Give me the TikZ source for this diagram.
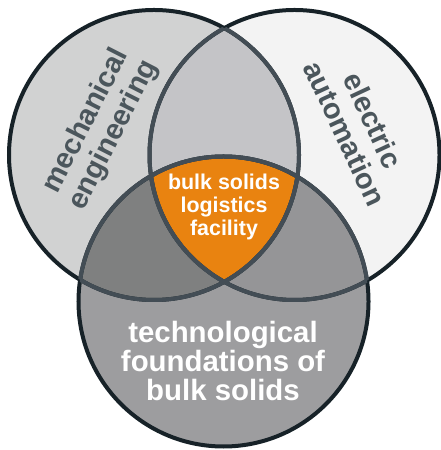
\documentclass[tikz,border=0pt]{standalone}
\usepackage{fontspec}
\setmainfont{Liberation Sans}

\definecolor{rimdark}{HTML}{172228}
\definecolor{rimslate}{HTML}{434D55}
\definecolor{labelgray}{HTML}{4B565C}
\definecolor{mechfill}{HTML}{D1D2D2}
\definecolor{elecfill}{HTML}{F3F3F3}
\definecolor{techfill}{HTML}{9D9D9F}
\definecolor{mefill}{HTML}{C4C4C7}
\definecolor{mtfill}{HTML}{7F8080}
\definecolor{etfill}{HTML}{959597}
\definecolor{corefill}{HTML}{E98310}

\def\circrad{145bp}

\begin{document}
\begin{tikzpicture}[x=1bp,y=1bp]
        \tikzstyle{ring}=[line width=4bp, draw=rimdark]
        \tikzstyle{seam}=[line width=4bp, draw=rimslate]
        \tikzstyle{field}=[text=labelgray, align=center, font=\fontsize{29}{31}\selectfont\bfseries]
        \tikzstyle{corelabel}=[text=white, align=center, font=\fontsize{21.5}{23.5}\selectfont\bfseries]
        \tikzstyle{baselabel}=[text=white, align=center, font=\fontsize{29.5}{29}\selectfont\bfseries]

        \useasboundingbox (0,0) rectangle (441,450);

        \coordinate (m) at (154,295);
        \coordinate (e) at (294.5,295);
        \coordinate (t) at (223.5,148.5);

        % single fields
        \fill[mechfill] (m) circle[radius=\circrad];
        \fill[elecfill] (e) circle[radius=\circrad];
        \fill[techfill] (t) circle[radius=\circrad];

        % overlaps
        \begin{scope}
            \clip (m) circle[radius=\circrad];
            \fill[mefill] (e) circle[radius=\circrad];
            \fill[mtfill] (t) circle[radius=\circrad];
        \end{scope}
        \begin{scope}
            \clip (e) circle[radius=\circrad];
            \fill[etfill] (t) circle[radius=\circrad];
        \end{scope}
        \begin{scope}
            \clip (m) circle[radius=\circrad];
            \clip (e) circle[radius=\circrad];
            \fill[corefill] (t) circle[radius=\circrad];
        \end{scope}

        % outlines
        \draw[ring] (m) circle[radius=\circrad];
        \draw[ring] (e) circle[radius=\circrad];
        \draw[ring] (t) circle[radius=\circrad];

        \begin{scope}
            \clip (e) circle[radius=\circrad];
            \draw[seam] (m) circle[radius=\circrad];
        \end{scope}
        \begin{scope}
            \clip (t) circle[radius=\circrad];
            \draw[seam] (m) circle[radius=\circrad];
            \draw[seam] (e) circle[radius=\circrad];
        \end{scope}
        \begin{scope}
            \clip (m) circle[radius=\circrad];
            \draw[seam] (e) circle[radius=\circrad];
            \draw[seam] (t) circle[radius=\circrad];
        \end{scope}
        \begin{scope}
            \clip (e) circle[radius=\circrad];
            \draw[seam] (t) circle[radius=\circrad];
        \end{scope}

        \node[field, rotate=63]  (mech) at (100,322)  {mechanical\\engineering};
        \node[field, rotate=-65] (elec) at (359,323) {electric\\automation};
        \node[corelabel]         (core) at (224,243) {bulk solids\\logistics\\facility};
        \node[baselabel]         (tech) at (223,89)  {technological\\foundations of\\bulk solids};
    \end{tikzpicture}
\end{document}
